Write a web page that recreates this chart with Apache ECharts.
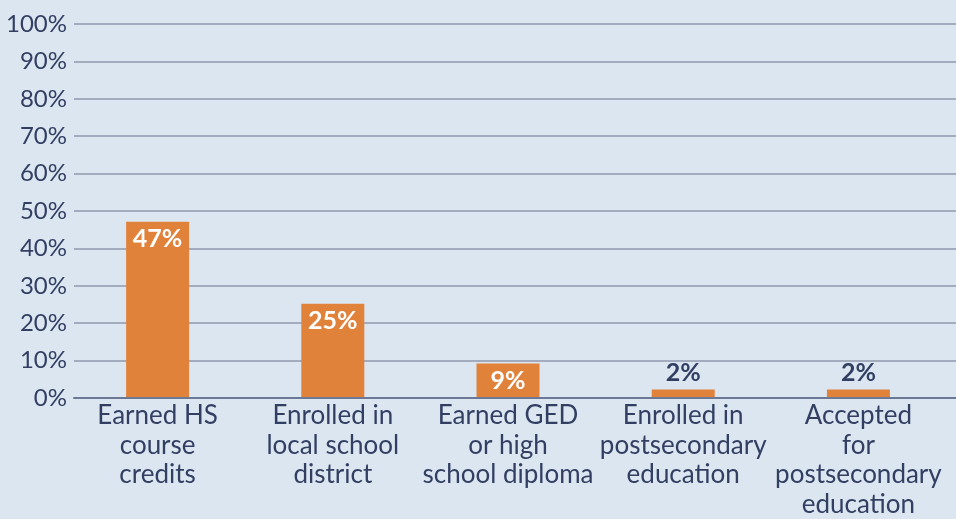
<!DOCTYPE html>
<html>
<head>
<meta charset="utf-8">
<script src="https://cdn.jsdelivr.net/npm/echarts@6/dist/echarts.min.js"></script>
<style>
html,body{margin:0;padding:0;background:#dce6f1;}
#chart{width:956px;height:519px;}
</style>
</head>
<body>
<div id="chart"></div>
<script>
const categories = [
  "Earned HS\ncourse\ncredits",
  "Enrolled in\nlocal school\ndistrict",
  "Earned GED\nor high\nschool diploma",
  "Enrolled in\npostsecondary\neducation",
  "Accepted\nfor\npostsecondary\neducation"
];
const values = [47, 25, 9, 2, 2];
const yTicks = [0, 10, 20, 30, 40, 50, 60, 70, 80, 90, 100];

const navy = '#323f62';
const orange = '#e0823a';
const font = 'Lato, "Open Sans", sans-serif';

const data = values.map(v => ({
  value: v,
  label: v < 5
    ? { position: 'top', distance: 4, color: navy }
    : { position: 'insideTop', distance: 5, color: '#ffffff' }
}));

const chart = echarts.init(document.getElementById('chart'));
chart.setOption({
  backgroundColor: '#dce6f1',
  animation: false,
  grid: [
    { left: 74, right: 0, top: 24, bottom: 121 },
    { left: 70, right: 10, top: 24, bottom: 121 }
  ],
  xAxis: [
    { gridIndex: 0, type: 'value', min: 0, max: 1, axisLabel: { show: false }, axisTick: { show: false }, splitLine: { show: false },
      axisLine: { show: true, lineStyle: { color: '#6b7896', width: 2 } } },
    { gridIndex: 1, type: 'category', data: categories,
      axisLine: { show: false }, axisTick: { show: false },
      axisLabel: { interval: 0, color: navy, fontFamily: font, fontSize: 26, lineHeight: 29.5, margin: 4 } }
  ],
  yAxis: [
    { gridIndex: 0, type: 'value', min: yTicks[0], max: yTicks[yTicks.length - 1], interval: 10,
      axisLine: { show: false }, axisTick: { show: false },
      axisLabel: { formatter: '{value}%', color: navy, fontFamily: font, fontSize: 24, margin: 7 },
      splitLine: { show: true, lineStyle: { color: '#9199ad', width: 1.5 } } },
    { gridIndex: 1, type: 'value', min: 0, max: 100, show: false }
  ],
  series: [{
    type: 'bar',
    xAxisIndex: 1,
    yAxisIndex: 1,
    data: data,
    barWidth: 63,
    itemStyle: { color: orange },
    label: { show: true, formatter: '{c}%', fontFamily: font, fontSize: 25, fontWeight: 'bold' }
  }]
});
</script>
</body>
</html>
